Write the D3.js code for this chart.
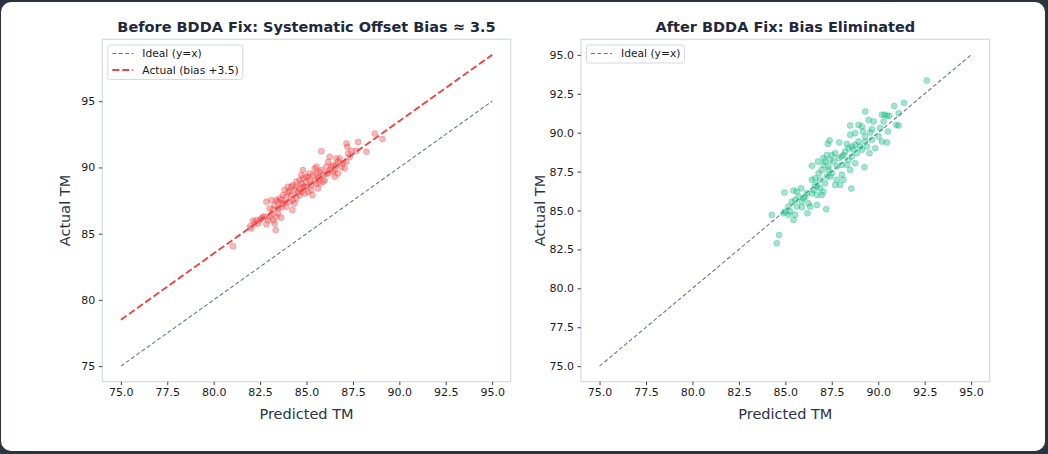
<!doctype html>
<html>
<head>
<meta charset="utf-8">
<title>BDDA bias fix</title>
<script src="https://cdn.jsdelivr.net/npm/d3@7"></script>
<style>
  body { margin: 0; background: #2b3340; }
  text { font-family: "DejaVu Sans", sans-serif; }
</style>
</head>
<body>
<div id="chart"></div>
<script>
// tick values
var xTicks = [75, 77.5, 80, 82.5, 85, 87.5, 90, 92.5, 95];
var yTicksBefore = [75, 80, 85, 90, 95];
var yTicksAfter = [75, 77.5, 80, 82.5, 85, 87.5, 90, 92.5, 95];

// before fix: predicted / actual
var beforePred = [81.04,82.03,82.12,82.30,82.39,82.57,82.66,82.84,82.93,83.02,83.11,83.20,83.28,83.34,83.37,83.46,83.64,82.84,83.11,83.28,
  83.46,83.55,83.73,83.82,84.00,84.09,84.18,84.27,84.24,83.91,83.82,83.64,84.36,84.45,84.63,84.54,84.72,84.81,84.90,84.99,
  85.08,85.17,85.26,85.35,85.44,85.53,85.62,85.71,85.32,85.08,85.80,85.89,85.98,86.07,86.16,86.25,86.34,86.43,86.52,86.16,
  86.25,85.80,86.61,86.70,86.79,86.97,87.06,87.15,87.24,87.33,87.15,87.20,87.42,87.69,87.78,88.23,88.68,89.09,84.72,84.81,
  84.63,84.81,84.99,85.17,85.44,85.53,85.71,85.89,86.07,84.18,84.00,83.91,83.64,83.37,83.20,83.02,82.75,82.48,82.21,81.97,
  84.45,84.72,84.90,85.26,85.62,85.71,86.43,86.52,86.70,85.53,84.99,84.45,84.27,83.73,83.46,84.09,84.36,84.63,86.61,86.88];
var beforeActual = [84.06,85.39,85.97,86.02,85.77,86.15,86.27,85.72,86.02,86.27,86.48,86.02,85.77,85.27,86.27,86.53,86.22,87.41,87.53,87.15,
  87.41,87.66,87.91,88.29,88.54,88.16,87.91,87.53,86.78,87.03,87.33,86.98,88.29,88.54,88.41,88.09,88.79,89.17,88.54,88.92,
  89.29,89.04,88.66,89.42,89.92,89.54,89.17,88.79,87.91,88.16,89.80,89.42,89.04,90.05,89.54,89.80,90.05,89.67,89.29,90.43,
  90.80,91.23,90.17,90.43,90.68,90.30,89.92,90.43,91.05,90.80,91.81,91.56,91.26,91.26,91.93,91.18,92.56,92.14,89.42,89.80,
  89.04,88.54,88.54,89.54,89.04,88.79,89.29,88.92,89.54,88.54,88.16,87.78,87.53,87.53,86.83,86.90,86.27,86.02,85.77,85.57,
  87.66,88.16,88.03,88.29,88.41,89.67,90.17,89.80,89.54,90.05,89.29,88.92,88.66,87.28,86.90,87.41,87.28,87.91,90.68,90.05];

// after fix: predicted / actual
var afterPred = [92.61,90.86,91.39,89.30,90.20,90.34,90.47,90.59,91.10,90.97,91.10,90.52,89.48,89.75,89.66,89.57,90.29,90.11,90.02,90.20,
  90.47,89.84,89.53,89.26,88.49,88.94,89.12,88.76,88.49,89.18,89.30,88.94,89.12,89.39,87.38,87.29,87.90,88.31,88.22,88.40,
  88.67,88.85,88.58,88.76,88.49,88.31,88.04,88.13,87.86,87.68,87.50,87.59,87.23,87.14,87.05,87.32,86.96,86.79,86.61,86.70,
  86.43,86.43,86.75,87.05,87.32,87.50,87.23,87.77,87.95,87.68,88.13,88.55,88.04,86.52,86.87,86.96,87.05,86.70,86.43,86.16,
  86.07,85.85,85.62,85.44,84.95,85.71,85.98,85.53,85.35,85.17,85.62,85.89,86.25,86.70,86.34,87.20,86.19,85.26,84.90,85.17,
  85.53,85.44,84.27,84.66,84.54,85.89,84.99,87.77,88.40,88.04,88.58,89.03,89.30,89.66,88.76,87.41,86.87,87.14,87.41,86.61];
var afterActual = [93.35,91.72,91.90,91.36,91.15,91.15,91.08,91.08,91.25,90.50,90.46,90.07,90.82,90.72,90.22,90.01,90.72,90.29,89.75,89.43,
  89.37,89.00,88.68,87.78,90.46,90.50,90.40,89.97,89.86,90.07,89.75,89.43,88.90,89.11,89.50,89.28,89.37,89.28,88.79,89.00,
  88.90,88.68,88.47,88.04,87.61,87.93,87.93,88.57,88.36,88.68,88.57,88.15,88.57,88.15,87.93,87.82,87.61,87.39,87.07,86.54,
  86.97,87.87,88.15,88.36,87.61,87.39,87.18,86.97,86.64,86.64,86.97,86.41,87.29,86.32,86.43,86.00,86.22,86.00,86.11,86.11,
  85.89,86.43,86.22,86.28,86.15,85.89,85.79,85.68,85.57,85.25,85.25,85.57,85.47,85.36,85.25,85.08,84.82,84.93,84.82,84.72,
  84.72,84.39,84.72,83.43,82.89,85.21,84.93,87.82,88.25,88.47,89.11,89.11,89.43,89.54,89.22,88.25,86.97,86.75,87.18,86.64];

var bias = 3.5;

var W = 1048, H = 454;
var svg = d3.select("#chart").append("svg")
    .attr("width", W)
    .attr("height", H);

// white card
svg.append("rect")
    .attr("x", 1).attr("y", 2)
    .attr("width", 1044).attr("height", 449)
    .attr("rx", 10)
    .attr("fill", "#ffffff");

var plotTop = 39.3, plotBottom = 381.7;
var idealStyle = {color: "#6b7689", width: 1.1, dash: "4,2.4"};
var biasStyle = {color: "#ef4444", width: 1.9, dash: "7,3"};

function panel(opt) {
  var x = d3.scaleLinear().domain([74, 96]).range([opt.left, opt.right]);
  var y = d3.scaleLinear().domain(opt.yDomain).range([plotBottom, plotTop]);
  var g = svg.append("g");

  // frame
  g.append("rect")
      .attr("x", opt.left).attr("y", plotTop)
      .attr("width", opt.right - opt.left).attr("height", plotBottom - plotTop)
      .attr("fill", "none")
      .attr("stroke", "#d3dae5")
      .attr("stroke-width", 1.2);

  // x axis
  var xa = g.append("g")
      .attr("transform", "translate(0," + plotBottom + ")")
      .call(d3.axisBottom(x).tickValues(xTicks).tickFormat(d3.format(".1f"))
        .tickSize(3.5).tickPadding(3.5));
  xa.select(".domain").remove();

  // y axis
  var ya = g.append("g")
      .attr("transform", "translate(" + opt.left + ",0)")
      .call(d3.axisLeft(y).tickValues(opt.yTicks).tickFormat(d3.format(opt.yFmt))
        .tickSize(3.5).tickPadding(3.5));
  ya.select(".domain").remove();

  g.selectAll(".tick line").attr("stroke", "#333").attr("stroke-width", 0.9);
  g.selectAll(".tick text")
      .attr("fill", "#1a1a1a")
      .style("font-size", "11px")
      .style("font-family", "DejaVu Sans, sans-serif");

  // ideal line y = x
  g.append("line")
      .attr("x1", x(75)).attr("y1", y(75))
      .attr("x2", x(95)).attr("y2", y(95))
      .attr("stroke", idealStyle.color)
      .attr("stroke-width", idealStyle.width)
      .attr("stroke-dasharray", idealStyle.dash);

  if (opt.biasLine) {
    g.append("line")
        .attr("x1", x(75)).attr("y1", y(75 + bias))
        .attr("x2", x(95)).attr("y2", y(95 + bias))
        .attr("stroke", biasStyle.color)
        .attr("stroke-width", biasStyle.width)
        .attr("stroke-dasharray", biasStyle.dash);
  }

  // points
  g.append("g").selectAll("circle")
      .data(opt.pred.map(function(d, i) { return [d, opt.actual[i]]; }))
    .enter().append("circle")
      .attr("cx", function(d) { return x(d[0]); })
      .attr("cy", function(d) { return y(d[1]); })
      .attr("r", 3)
      .attr("fill", opt.color)
      .attr("fill-opacity", 0.38)
      .attr("stroke", opt.color)
      .attr("stroke-opacity", 0.38)
      .attr("stroke-width", 0.8);

  var cx = (opt.left + opt.right) / 2;

  // title
  g.append("text")
      .attr("x", cx).attr("y", 32)
      .attr("text-anchor", "middle")
      .style("font-size", "14.5px")
      .style("font-weight", "bold")
      .attr("fill", "#1e293b")
      .text(opt.title);

  // axis labels
  g.append("text")
      .attr("x", cx).attr("y", 419)
      .attr("text-anchor", "middle")
      .style("font-size", "14.5px")
      .attr("fill", "#2a3444")
      .text("Predicted TM");

  g.append("text")
      .attr("transform", "translate(" + opt.yLabelX + "," + ((plotTop + plotBottom) / 2) + ") rotate(-90)")
      .attr("text-anchor", "middle")
      .style("font-size", "14.5px")
      .attr("fill", "#2a3444")
      .text("Actual TM");

  // legend
  var lg = g.append("g");
  lg.append("rect")
      .attr("x", opt.left + 5.5).attr("y", 45)
      .attr("width", opt.legendW).attr("height", opt.legend.length * 16.5 + 1.5)
      .attr("rx", 2.5)
      .attr("fill", "#ffffff")
      .attr("fill-opacity", 0.8)
      .attr("stroke", "#d3dae5");
  opt.legend.forEach(function(e, i) {
    var ly = 53.5 + i * 16.5;
    lg.append("line")
        .attr("x1", opt.left + 10).attr("x2", opt.left + 31)
        .attr("y1", ly).attr("y2", ly)
        .attr("stroke", e.color)
        .attr("stroke-width", e.width)
        .attr("stroke-dasharray", e.dash);
    lg.append("text")
        .attr("x", opt.left + 40).attr("y", ly + 3.8)
        .style("font-size", "10.7px")
        .attr("fill", "#1a1a1a")
        .text(e.label);
  });
}

panel({
  left: 102.3, right: 510.7,
  yDomain: [73.825, 99.675],
  yTicks: yTicksBefore, yFmt: "d",
  yLabelX: 70,
  pred: beforePred, actual: beforeActual,
  color: "#ef4444",
  biasLine: true,
  title: "Before BDDA Fix: Systematic Offset Bias \u2248 3.5",
  legendW: 135,
  legend: [
    {label: "Ideal (y=x)", color: idealStyle.color, width: idealStyle.width, dash: idealStyle.dash},
    {label: "Actual (bias +3.5)", color: biasStyle.color, width: biasStyle.width, dash: biasStyle.dash}
  ]
});

panel({
  left: 581, right: 989.7,
  yDomain: [74, 96],
  yTicks: yTicksAfter, yFmt: ".1f",
  yLabelX: 545,
  pred: afterPred, actual: afterActual,
  color: "#10b981",
  biasLine: false,
  title: "After BDDA Fix: Bias Eliminated",
  legendW: 98,
  legend: [
    {label: "Ideal (y=x)", color: idealStyle.color, width: idealStyle.width, dash: idealStyle.dash}
  ]
});
</script>
</body>
</html>
